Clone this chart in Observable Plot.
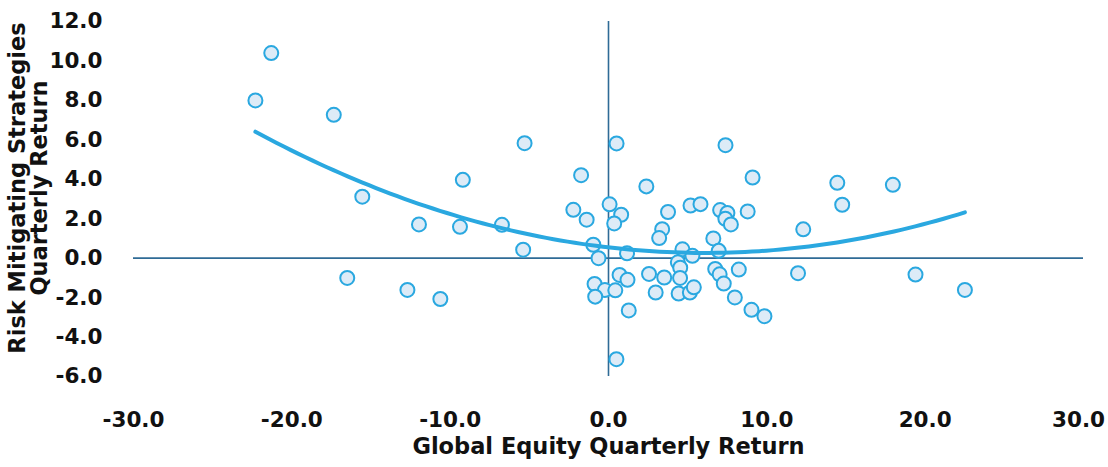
<!DOCTYPE html>
<html><head><meta charset="utf-8">
<script src="https://cdn.jsdelivr.net/npm/d3@7"></script>
<script src="https://cdn.jsdelivr.net/npm/@observablehq/plot@0.6"></script>
<style>
body{margin:0;background:#fff;}
#chart svg{font-family:"DejaVu Sans",sans-serif;}
</style></head><body><div id="chart"></div>
<script>
const equityReturn = [
 -21.3,-22.3,-17.35,-15.55,-16.5,-5.3,-9.2,-11.97,-9.38,-6.73,-5.39,-12.7,-10.62,
 0.51,7.39,-1.73,2.39,-2.22,-1.38,0.07,0.8,0.36,3.76,3.39,3.2,-0.96,-0.63,1.17,4.67,
 4.38,4.53,0.7,1.2,2.56,3.52,4.52,-0.88,-0.23,0.43,-0.84,2.98,4.43,1.28,0.5,
 5.18,5.81,7.05,7.51,7.38,7.73,8.79,9.1,6.62,5.3,6.96,6.74,7.02,7.28,8.23,7.98,
 9.03,9.85,5.14,5.39,12.3,11.97,14.45,17.96,14.76,19.39,22.51
];
const rmsReturn = [
 10.4,8.0,7.27,3.12,-1.0,5.83,3.97,1.71,1.59,1.69,0.43,-1.61,-2.07,
 5.82,5.73,4.21,3.64,2.45,1.95,2.73,2.2,1.76,2.34,1.47,1.02,0.68,0.0,0.25,0.45,
 -0.21,-0.48,-0.85,-1.1,-0.8,-0.98,-1.0,-1.31,-1.62,-1.63,-1.95,-1.74,-1.79,-2.65,-5.12,
 2.67,2.74,2.44,2.29,2.0,1.71,2.37,4.09,1.0,0.12,0.37,-0.55,-0.82,-1.29,-0.58,-1.99,
 -2.62,-2.94,-1.74,-1.48,1.46,-0.76,3.82,3.72,2.71,-0.83,-1.61
];
const xTicks = [-30,-20,-10,0,10,20];
const xTickLast = [30];
const yTicks = [-6,-4,-2,0,2,4,6,8,10,12];
const xTitle = "Global Equity Quarterly Return";
const yTitle = "Risk Mitigating Strategies\nQuarterly Return";

const data = equityReturn.map((x,i)=>({x, y: rmsReturn[i]}));

// second-order polynomial trend line (least squares on the data)
function quadFit(xs, ys){
  const S = k => d3.sum(xs, x => x**k);
  const T = k => d3.sum(xs, (x,i) => x**k * ys[i]);
  const A = [[S(0),S(1),S(2)],[S(1),S(2),S(3)],[S(2),S(3),S(4)]];
  const b = [T(0),T(1),T(2)];
  for(let i=0;i<3;i++){
    for(let j=i+1;j<3;j++){
      const f = A[j][i]/A[i][i];
      for(let k=i;k<3;k++) A[j][k]-=f*A[i][k];
      b[j]-=f*b[i];
    }
  }
  const c=[0,0,0];
  for(let i=2;i>=0;i--){
    let s=b[i];
    for(let k=i+1;k<3;k++) s-=A[i][k]*c[k];
    c[i]=s/A[i][i];
  }
  return c;
}
const coef = quadFit(equityReturn, rmsReturn);
const [xmin,xmax] = d3.extent(equityReturn);
const trend = d3.range(0,101).map(i=>{
  const x = xmin + (xmax-xmin)*i/100;
  return {x, y: coef[0]+coef[1]*x+coef[2]*x*x};
});

const fmt = d => d.toFixed(1);
const FS = 22.5, TFS = 21.5;
const chart = Plot.plot({
  width:1108, height:467,
  marginLeft:133, marginRight:25, marginTop:21, marginBottom:91,
  style:{fontFamily:"DejaVu Sans, sans-serif", fontSize:FS+"px", fontWeight:700, color:"#111", background:"#fff"},
  x:{domain:[-30,30]},
  y:{domain:[-6,12]},
  marks:[
    Plot.ruleY([0], {stroke:"#2f6b96", strokeWidth:1.6}),
    Plot.ruleX([0], {stroke:"#2f6b96", strokeWidth:1.6}),
    Plot.dot(data, {x:"x", y:"y", r:7, fill:"#ddebf7", stroke:"#2aa8e0", strokeWidth:2}),
    Plot.line(trend, {x:"x", y:"y", stroke:"#2aa8e0", strokeWidth:4}),
    Plot.axisX(xTicks, {tickSize:0, tickPadding:35, tickFormat:fmt, label:null, fontSize:TFS, fontWeight:700}),
    Plot.axisX(xTickLast, {tickSize:0, tickPadding:35, tickFormat:fmt, label:null, fontSize:TFS, fontWeight:700, dx:-5}),
    Plot.axisY(yTicks, {tickSize:0, tickPadding:31, tickFormat:fmt, label:null, fontSize:TFS, fontWeight:700}),
    Plot.text([xTitle], {frameAnchor:"bottom", dy:77, fontSize:FS, fontWeight:700}),
    Plot.text([yTitle], {frameAnchor:"left", textAnchor:"middle", dx:-105, dy:-11, rotate:-90, lineAnchor:"middle", lineHeight:0.98, fontSize:FS, fontWeight:700})
  ]
});
document.getElementById("chart").append(chart);
</script></body></html>
